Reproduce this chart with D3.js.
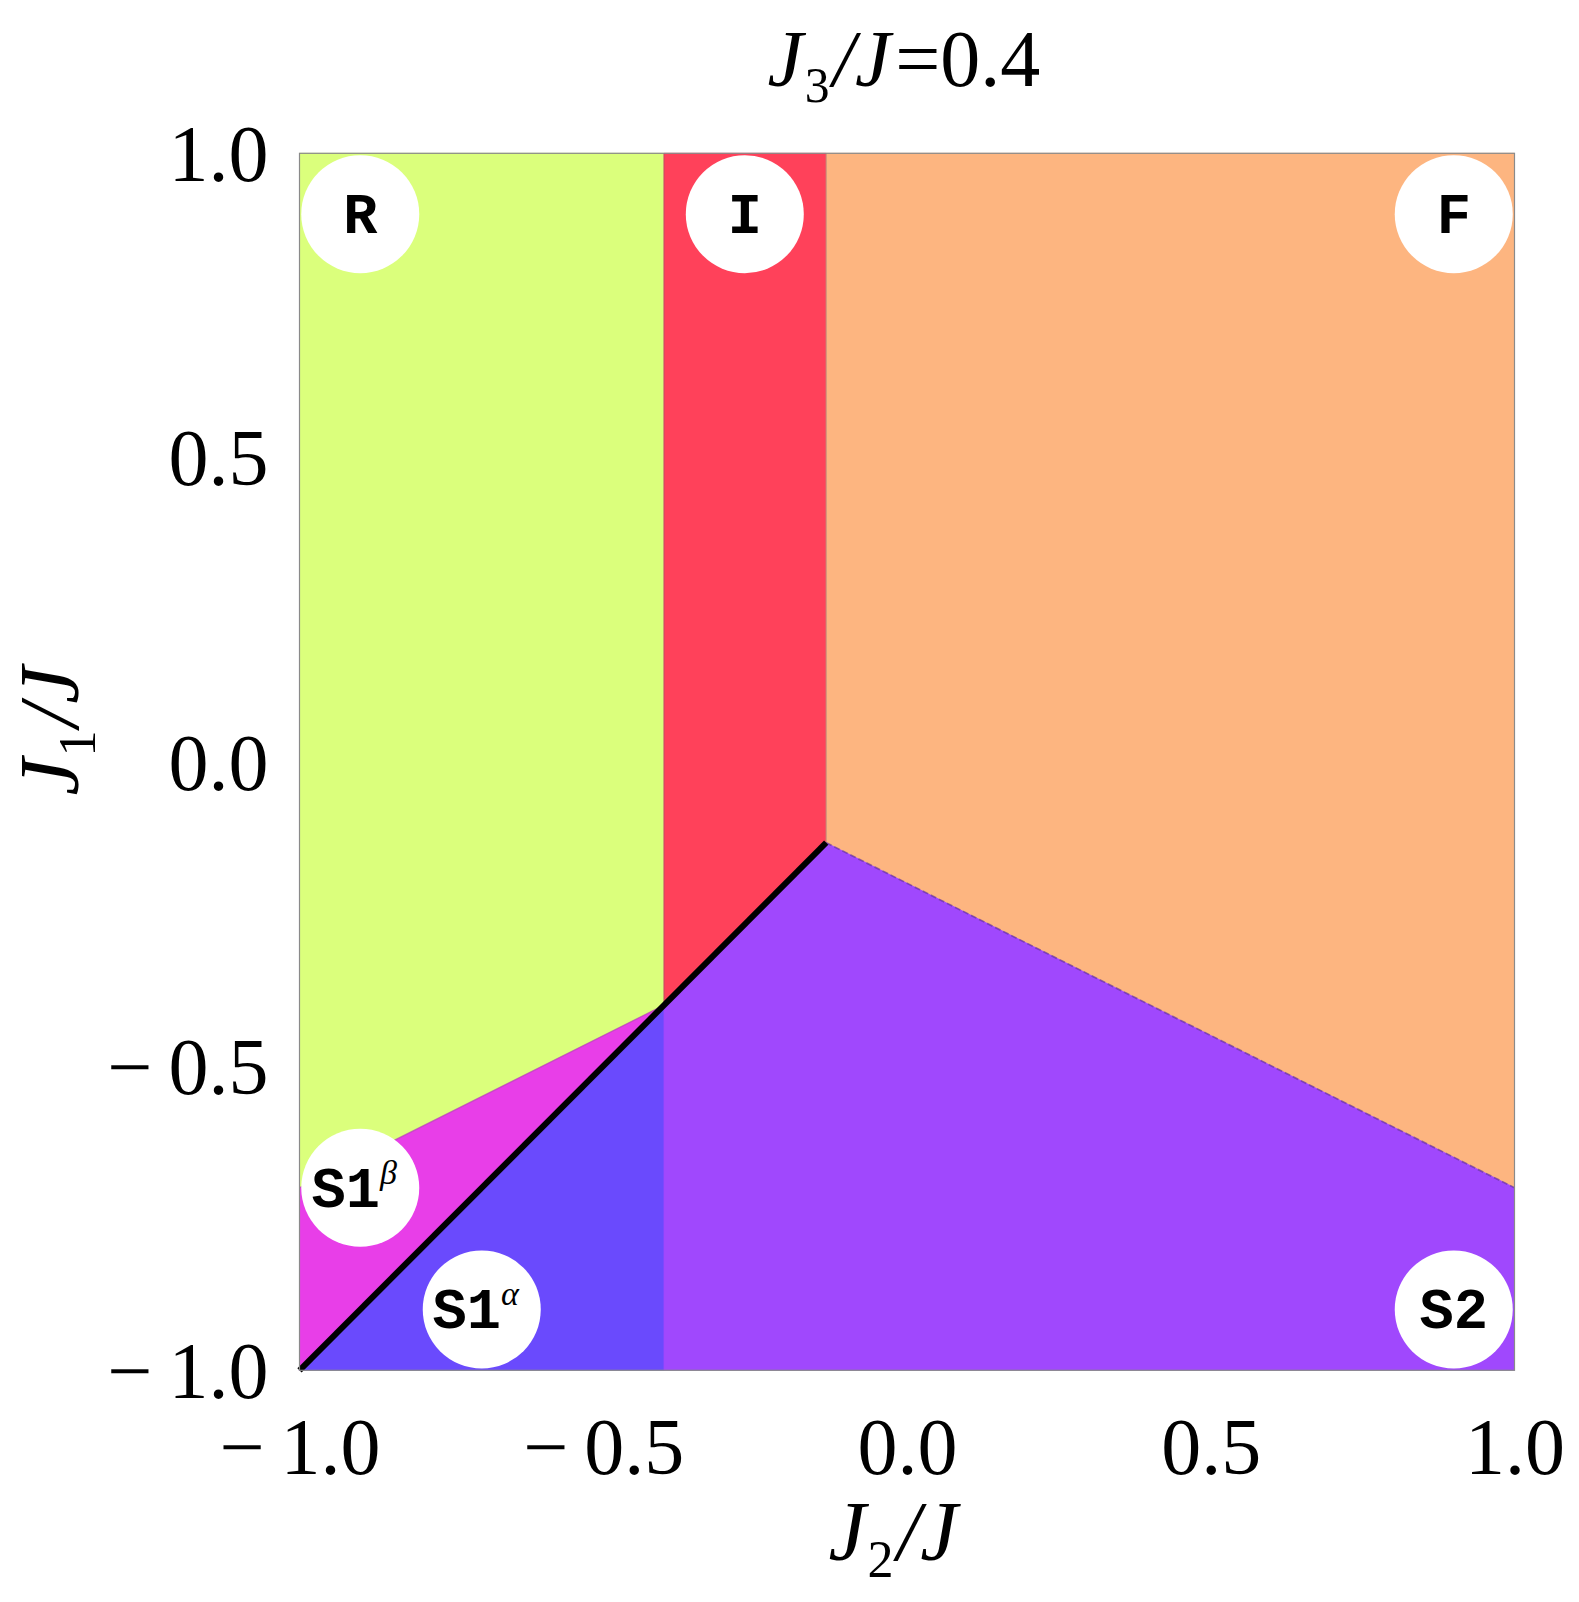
<!DOCTYPE html>
<html>
<head>
<meta charset="utf-8">
<script src="https://cdn.jsdelivr.net/npm/d3@7/dist/d3.min.js"></script>
<style>
  body { margin: 0; background: #fff; }
  svg { display: block; }
  .tick text { font-family: "Liberation Serif", "Times New Roman", serif; fill: #000; }
</style>
</head>
<body>
<svg id="chart" width="1579" height="1602"></svg>
<script>
// phase diagram at J3/J = 0.4, axes J2/J (x) and J1/J (y)
const ticks = [-1, -0.5, 0, 0.5, 1];
const tickLabels = ["\u2212\u20091.0", "\u2212\u20090.5", "0.0", "0.5", "1.0"];

// phase boundaries
const xRI = -0.4;       // R | I
const xIF = -0.133;     // I | F, also the triple point
const yF_S2 = -0.7;     // F/S2 boundary at J2 = 1
const yR_S1b = -0.7;    // R/S1beta boundary at J2 = -1

// regions (J2, J1): R, I, F, S1b, S1a, S2
const regionPolys = [
    [[-1, 1], [xRI, 1], [xRI, xRI], [-1, yR_S1b]],
    [[xRI, 1], [xIF, 1], [xIF, xIF], [xRI, xRI]],
    [[xIF, 1], [1, 1], [1, yF_S2], [xIF, xIF]],
    [[-1, yR_S1b], [xRI, xRI], [-1, -1]],
    [[-1, -1], [xRI, xRI], [xRI, -1]],
    [[xRI, -1], [xRI, xRI], [xIF, xIF], [1, yF_S2], [1, -1]]
];
const regionColors = ["#dbff7c", "#ff415a", "#fdb580", "#e83ee8", "#6a4afd", "#a048fd"];

// first order line S1a / S1b (and S2 / I)
const blackLine = [[-1, -1], [xIF, xIF]];
// thin boundaries
const softLines = [
    [[xRI, 1], [xRI, xRI]],
    [[xIF, 1], [xIF, xIF]],
    [[-1, yR_S1b], [xRI, xRI]]
];
const edgeFS2 = [[xIF, xIF], [1, yF_S2]];

// phase labels
const labelText = ["R", "I", "F", "S1", "S1", "S2"];
const labelSup = ["", "", "", "\u03b2", "\u03b1", ""];
const labelX = [-0.9, -0.267, 0.9, -0.9, -0.7, 0.9];
const labelY = [0.9, 0.9, 0.9, -0.7, -0.9, -0.9];

const svg = d3.select("#chart");
const margin = { left: 299.5, top: 153.3 };
const w = 1215, h = 1217;

const x = d3.scaleLinear().domain([-1, 1]).range([0, w]);
const y = d3.scaleLinear().domain([-1, 1]).range([h, 0]);

const g = svg.append("g").attr("transform", `translate(${margin.left},${margin.top})`);

const line = d3.line().x(d => x(d[0])).y(d => y(d[1]));

g.append("g")
    .selectAll("path")
    .data(regionPolys)
    .join("path")
    .attr("d", d => line(d) + "Z")
    .attr("fill", (d, i) => regionColors[i])
    .attr("stroke", (d, i) => regionColors[i])
    .attr("stroke-width", 0.8);

g.append("g")
    .selectAll("path")
    .data(softLines)
    .join("path")
    .attr("d", line)
    .attr("stroke", "#7a5a70")
    .attr("stroke-opacity", 0.3)
    .attr("stroke-width", 1.5)
    .attr("fill", "none");

g.append("path")
    .attr("d", line(edgeFS2))
    .attr("stroke", "#4a2a6a")
    .attr("stroke-opacity", 0.45)
    .attr("stroke-width", 1.8)
    .attr("stroke-dasharray", "6 3")
    .attr("fill", "none");

g.append("path")
    .attr("d", line(blackLine))
    .attr("stroke", "#000")
    .attr("stroke-width", 6)
    .attr("fill", "none");

// frame
g.append("rect")
    .attr("width", w)
    .attr("height", h)
    .attr("fill", "none")
    .attr("stroke", "#8a8a8a")
    .attr("stroke-width", 1.2);

// labels
const lab = g.append("g")
    .selectAll("g")
    .data(labelText)
    .join("g")
    .attr("transform", (d, i) => `translate(${x(labelX[i])},${y(labelY[i])})`);

lab.append("circle")
    .attr("r", 59)
    .attr("fill", "#fff");

lab.append("text")
    .attr("text-anchor", "middle")
    .attr("x", (d, i) => labelSup[i] ? -6 : 0)
    .attr("y", 19)
    .attr("font-family", "'Liberation Mono', 'Courier New', monospace")
    .attr("font-weight", "bold")
    .attr("font-size", 57)
    .attr("fill", "#000")
    .each(function (d, i) {
        const t = d3.select(this);
        t.append("tspan").text(d);
        if (labelSup[i]) {
            t.append("tspan")
                .attr("font-family", "'Liberation Serif', serif")
                .attr("font-style", "italic")
                .attr("font-weight", "normal")
                .attr("font-size", 34)
                .attr("dy", -23)
                .text(labelSup[i]);
        }
    });

// axes
const fmt = d => tickLabels[ticks.indexOf(d)];

const xAxis = g.append("g")
    .attr("transform", `translate(0,${h})`)
    .call(d3.axisBottom(x).tickValues(ticks).tickFormat(fmt).tickSize(0).tickPadding(104));
xAxis.select(".domain").remove();
xAxis.selectAll("text").attr("font-size", 80).attr("dy", 0);

const yAxis = g.append("g")
    .call(d3.axisLeft(y).tickValues(ticks).tickFormat(fmt).tickSize(0).tickPadding(31));
yAxis.select(".domain").remove();
yAxis.selectAll("text").attr("font-size", 80).attr("dy", "0.34em");

// title and axis titles
function mathLabel(sel, size, sub, tail) {
    sel.attr("font-family", "'Liberation Serif', 'Times New Roman', serif")
        .attr("font-size", size)
        .attr("fill", "#000");
    sel.append("tspan").attr("font-style", "italic").text("J");
    sel.append("tspan").attr("font-size", size * 0.62).attr("dy", size * 0.2).attr("dx", size * 0.02).text(sub);
    sel.append("tspan").attr("font-style", "italic").attr("dy", -size * 0.2).attr("dx", size * 0.04).text("/J");
    if (tail) sel.append("tspan").attr("dx", size * 0.06).text(tail);
}

svg.append("text")
    .attr("x", 904)
    .attr("y", 86)
    .attr("text-anchor", "middle")
    .call(mathLabel, 80, "3", "=0.4");

svg.append("text")
    .attr("x", 893)
    .attr("y", 1560)
    .attr("text-anchor", "middle")
    .call(mathLabel, 84, "2", "");

svg.append("text")
    .attr("transform", "translate(78,731) rotate(-90)")
    .attr("text-anchor", "middle")
    .call(mathLabel, 84, "1", "");
</script>
</body>
</html>
